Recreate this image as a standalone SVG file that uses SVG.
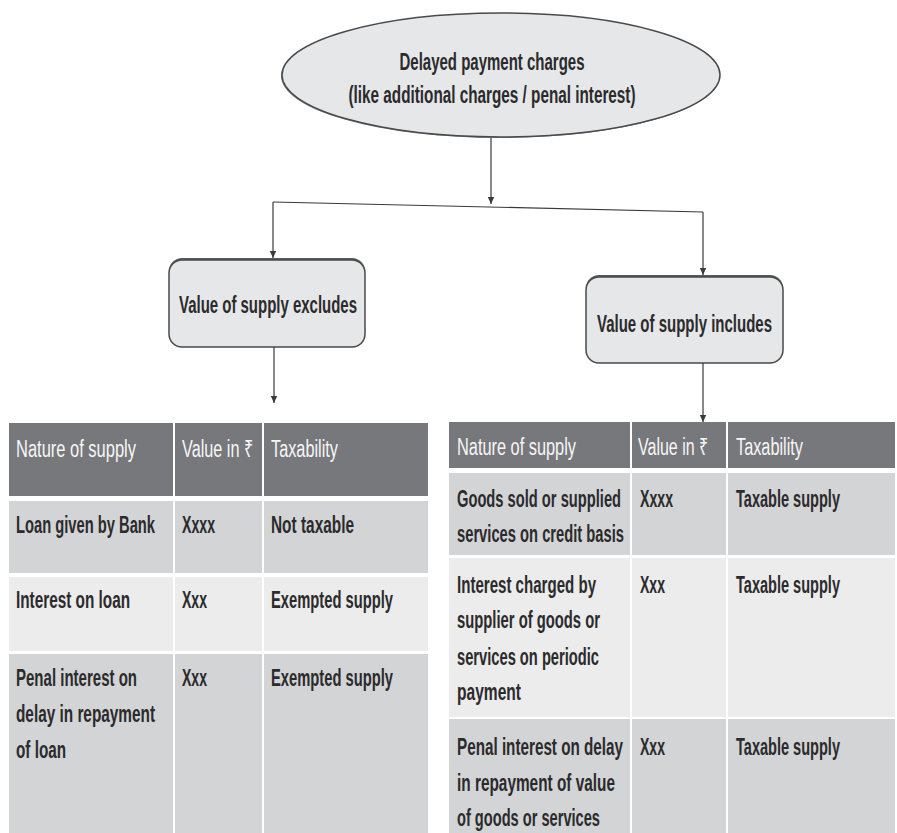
<svg xmlns="http://www.w3.org/2000/svg" width="897" height="833" viewBox="0 0 897 833">
<defs>
<marker id="arr" markerWidth="8" markerHeight="8" refX="7" refY="4" orient="auto" markerUnits="userSpaceOnUse">
<path d="M0,0.8 L7,4 L0,7.2 Z" fill="#3a3a3a"/>
</marker>
<style>
.t{font-family:"Liberation Sans",Arial,sans-serif;font-size:24px;font-weight:bold;fill:#2b2b2c}
.h{font-family:"Liberation Sans",Arial,sans-serif;font-size:24px;fill:#f6f6f6}
.hd{fill:#77787b}
.dk{fill:#d3d4d6}
.lt{fill:#ececed}
.c{stroke:#3a3a3a;stroke-width:1.2;fill:none}
.nd{fill:#e6e7e9;stroke:#4a4a4a;stroke-width:1.5}
</style>
</defs>
<rect width="897" height="833" fill="#ffffff"/>

<g id="root">
<ellipse cx="500" cy="76" rx="219" ry="62" fill="#8a8a8a"/>
<ellipse cx="501" cy="75" rx="219" ry="62" class="nd"/>
<g transform="scale(0.61,1)">
<text class="t" x="806.56" y="70" text-anchor="middle" textLength="303.3" lengthAdjust="spacingAndGlyphs">Delayed payment charges</text>
<text class="t" x="806.56" y="103" text-anchor="middle" textLength="470.5" lengthAdjust="spacingAndGlyphs">(like additional charges / penal interest)</text>
</g>
</g>

<g id="excludes">
<rect x="169" y="258" width="196" height="89" rx="13" fill="#5a5a5a"/>
<rect x="169" y="260" width="196" height="87" rx="13" class="nd"/>
<g transform="scale(0.61,1)">
<text class="t" x="439.34" y="313" text-anchor="middle" textLength="291.8" lengthAdjust="spacingAndGlyphs">Value of supply excludes</text>
</g>
</g>

<g id="includes">
<rect x="586" y="275" width="197" height="88" rx="13" fill="#5a5a5a"/>
<rect x="586" y="277" width="197" height="86" rx="13" class="nd"/>
<g transform="scale(0.61,1)">
<text class="t" x="1122.13" y="332" text-anchor="middle" textLength="286.9" lengthAdjust="spacingAndGlyphs">Value of supply includes</text>
</g>
</g>

<g id="connectors">
<line class="c" x1="491" y1="138" x2="491" y2="204" marker-end="url(#arr)"/>
<line class="c" x1="273" y1="202" x2="703" y2="212"/>
<line class="c" x1="273" y1="202" x2="273" y2="258" marker-end="url(#arr)"/>
<line class="c" x1="703" y1="212" x2="703" y2="275" marker-end="url(#arr)"/>
<line class="c" x1="274" y1="347" x2="274" y2="403" marker-end="url(#arr)"/>
<line class="c" x1="703" y1="363" x2="703" y2="422" marker-end="url(#arr)"/>
</g>

<g id="table-excludes">
<rect class="hd" x="9" y="423" width="164" height="73"/>
<rect class="hd" x="175" y="423" width="87" height="73"/>
<rect class="hd" x="264" y="423" width="164" height="73"/>
<rect class="dk" x="9" y="501" width="164" height="72"/>
<rect class="dk" x="175" y="501" width="87" height="72"/>
<rect class="dk" x="264" y="501" width="164" height="72"/>
<rect class="lt" x="9" y="577" width="164" height="74"/>
<rect class="lt" x="175" y="577" width="87" height="74"/>
<rect class="lt" x="264" y="577" width="164" height="74"/>
<rect class="dk" x="9" y="654" width="164" height="179"/>
<rect class="dk" x="175" y="654" width="87" height="179"/>
<rect class="dk" x="264" y="654" width="164" height="179"/>
<g transform="scale(0.61,1)">
<text class="h" x="26.23" y="457" textLength="196.7" lengthAdjust="spacingAndGlyphs">Nature of supply</text>
<text class="h" x="298.36" y="457" textLength="116.4" lengthAdjust="spacingAndGlyphs">Value in ₹</text>
<text class="h" x="444.26" y="457" textLength="109.8" lengthAdjust="spacingAndGlyphs">Taxability</text>
<text class="t" x="26.23" y="533" textLength="227.9" lengthAdjust="spacingAndGlyphs">Loan given by Bank</text>
<text class="t" x="298.36" y="533" textLength="54.1" lengthAdjust="spacingAndGlyphs">Xxxx</text>
<text class="t" x="444.26" y="533" textLength="136.1" lengthAdjust="spacingAndGlyphs">Not taxable</text>
<text class="t" x="26.23" y="608" textLength="186.9" lengthAdjust="spacingAndGlyphs">Interest on loan</text>
<text class="t" x="298.36" y="608" textLength="41" lengthAdjust="spacingAndGlyphs">Xxx</text>
<text class="t" x="444.26" y="608" textLength="200" lengthAdjust="spacingAndGlyphs">Exempted supply</text>
<text class="t" x="26.23" y="686" textLength="198.4" lengthAdjust="spacingAndGlyphs">Penal interest on</text>
<text class="t" x="26.23" y="722" textLength="227.9" lengthAdjust="spacingAndGlyphs">delay in repayment</text>
<text class="t" x="26.23" y="758" textLength="82" lengthAdjust="spacingAndGlyphs">of loan</text>
<text class="t" x="298.36" y="686" textLength="41" lengthAdjust="spacingAndGlyphs">Xxx</text>
<text class="t" x="444.26" y="686" textLength="200" lengthAdjust="spacingAndGlyphs">Exempted supply</text>
</g>
</g>

<g id="table-includes">
<rect class="hd" x="449" y="422" width="181" height="46"/>
<rect class="hd" x="632" y="422" width="94" height="46"/>
<rect class="hd" x="728" y="422" width="167" height="46"/>
<rect class="dk" x="449" y="473" width="181" height="82"/>
<rect class="dk" x="632" y="473" width="94" height="82"/>
<rect class="dk" x="728" y="473" width="167" height="82"/>
<rect class="lt" x="449" y="558" width="181" height="159"/>
<rect class="lt" x="632" y="558" width="94" height="159"/>
<rect class="lt" x="728" y="558" width="167" height="159"/>
<rect class="dk" x="449" y="719" width="181" height="114"/>
<rect class="dk" x="632" y="719" width="94" height="114"/>
<rect class="dk" x="728" y="719" width="167" height="114"/>
<g transform="scale(0.61,1)">
<text class="h" x="749.18" y="455" textLength="195.1" lengthAdjust="spacingAndGlyphs">Nature of supply</text>
<text class="h" x="1045.9" y="455" textLength="114.8" lengthAdjust="spacingAndGlyphs">Value in ₹</text>
<text class="h" x="1206.56" y="455" textLength="109.8" lengthAdjust="spacingAndGlyphs">Taxability</text>
<text class="t" x="749.18" y="507" textLength="268.9" lengthAdjust="spacingAndGlyphs">Goods sold or supplied</text>
<text class="t" x="749.18" y="542" textLength="273.8" lengthAdjust="spacingAndGlyphs">services on credit basis</text>
<text class="t" x="1049.18" y="507" textLength="54.1" lengthAdjust="spacingAndGlyphs">Xxxx</text>
<text class="t" x="1206.56" y="507" textLength="170.5" lengthAdjust="spacingAndGlyphs">Taxable supply</text>
<text class="t" x="749.18" y="593" textLength="227.9" lengthAdjust="spacingAndGlyphs">Interest charged by</text>
<text class="t" x="749.18" y="628" textLength="234.4" lengthAdjust="spacingAndGlyphs">supplier of goods or</text>
<text class="t" x="749.18" y="665" textLength="232.8" lengthAdjust="spacingAndGlyphs">services on periodic</text>
<text class="t" x="749.18" y="700" textLength="104.9" lengthAdjust="spacingAndGlyphs">payment</text>
<text class="t" x="1049.18" y="593" textLength="41" lengthAdjust="spacingAndGlyphs">Xxx</text>
<text class="t" x="1206.56" y="593" textLength="170.5" lengthAdjust="spacingAndGlyphs">Taxable supply</text>
<text class="t" x="749.18" y="755" textLength="272.1" lengthAdjust="spacingAndGlyphs">Penal interest on delay</text>
<text class="t" x="749.18" y="791" textLength="259" lengthAdjust="spacingAndGlyphs">in repayment of value</text>
<text class="t" x="749.18" y="826" textLength="234.4" lengthAdjust="spacingAndGlyphs">of goods or services</text>
<text class="t" x="1049.18" y="755" textLength="41" lengthAdjust="spacingAndGlyphs">Xxx</text>
<text class="t" x="1206.56" y="755" textLength="170.5" lengthAdjust="spacingAndGlyphs">Taxable supply</text>
</g>
</g>
</svg>
